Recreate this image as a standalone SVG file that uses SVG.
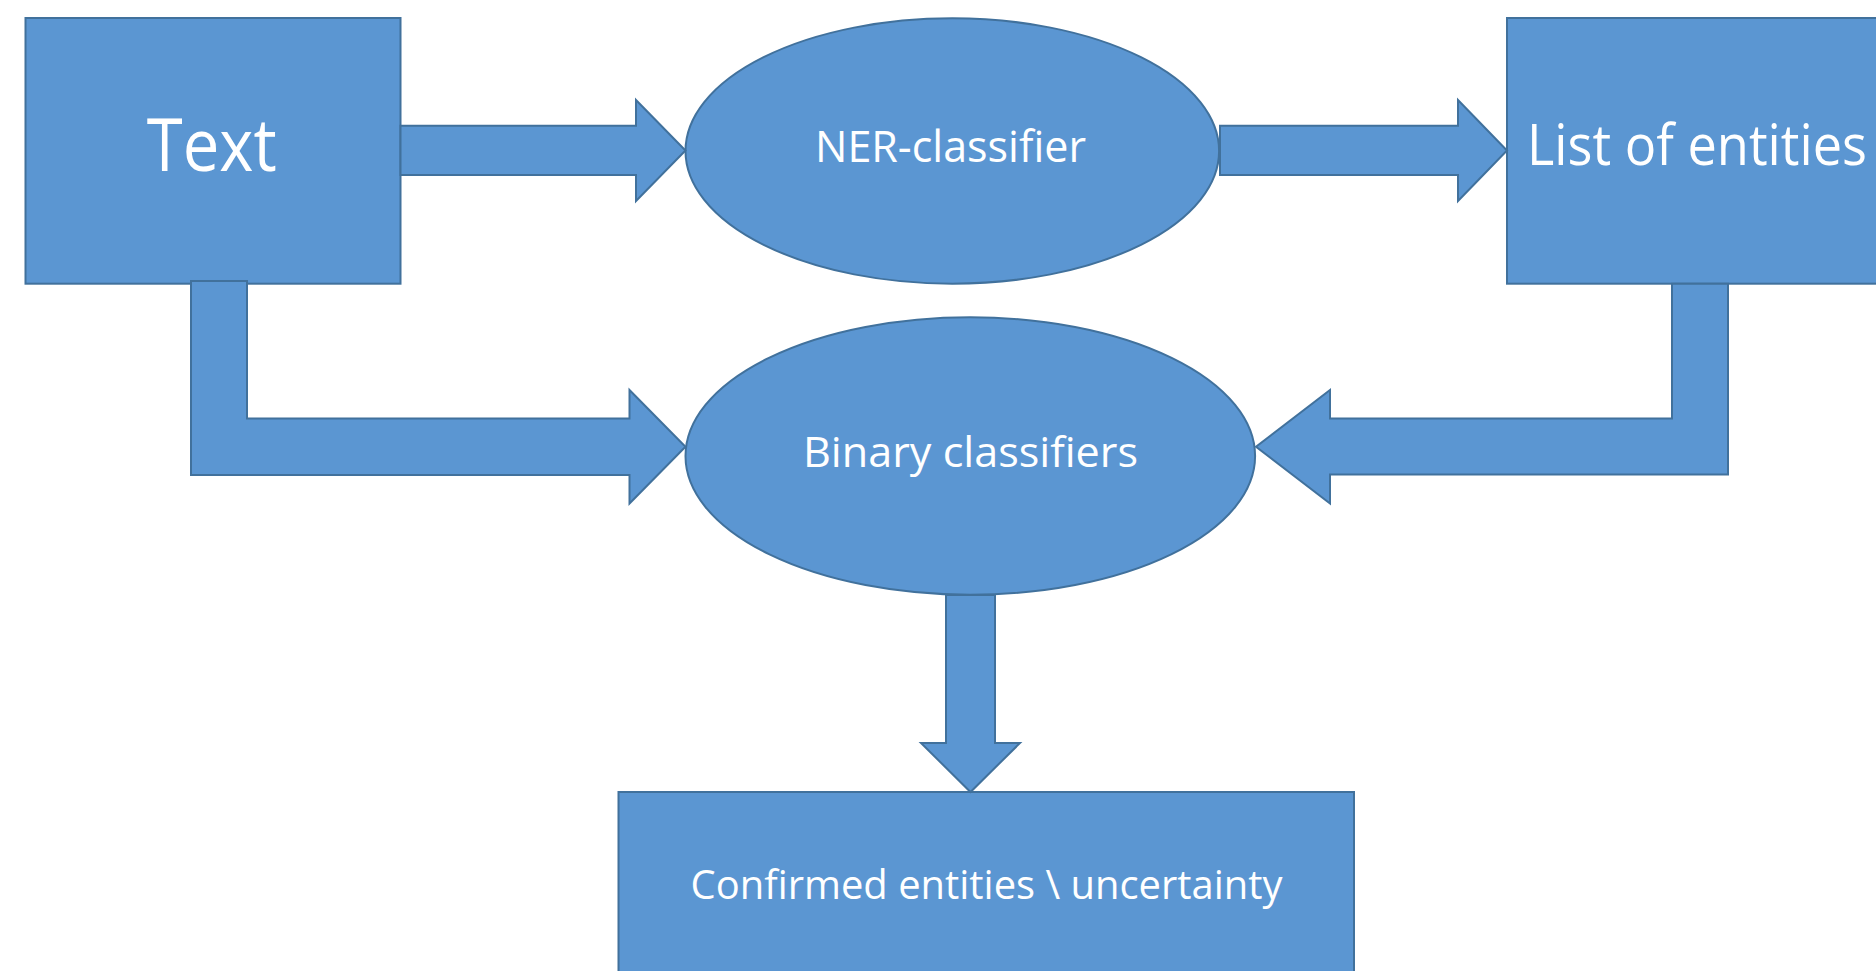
<svg xmlns="http://www.w3.org/2000/svg" width="1876" height="971" viewBox="0 0 1876 971">
  <style>
    .shape { fill: #5B96D2; stroke: #41719C; stroke-width: 2; stroke-linejoin: miter; }
    .lbl { fill: #FFFFFF; font-family: "Open Sans", "Liberation Sans", sans-serif; text-anchor: middle; }
  </style>
  <rect x="0" y="0" width="1876" height="971" fill="#FFFFFF"/>
  <g id="node-text">
    <rect class="shape" x="25.5" y="18" width="375" height="265.7"/>
    <text class="lbl" x="211.7" y="170.7" font-size="73" textLength="130" lengthAdjust="spacingAndGlyphs">Text</text>
  </g>
  <g id="node-ner">
    <ellipse class="shape" cx="952.3" cy="151" rx="266.8" ry="132.7"/>
    <text class="lbl" x="950.5" y="161.7" font-size="43.5" textLength="271" lengthAdjust="spacingAndGlyphs">NER-classifier</text>
  </g>
  <g id="node-list">
    <rect class="shape" x="1507" y="18" width="375" height="265.7"/>
    <text class="lbl" x="1697" y="165" font-size="56" textLength="340" lengthAdjust="spacingAndGlyphs">List of entities</text>
  </g>
  <g id="node-binary">
    <ellipse class="shape" cx="970.3" cy="456" rx="284.8" ry="138.8"/>
    <text class="lbl" x="970.5" y="466.7" font-size="42" textLength="335" lengthAdjust="spacingAndGlyphs">Binary classifiers</text>
  </g>
  <g id="node-confirmed">
    <rect class="shape" x="618.5" y="792" width="735.5" height="266"/>
    <text class="lbl" x="986.5" y="899" font-size="40.6" textLength="592" lengthAdjust="spacingAndGlyphs">Confirmed entities \ uncertainty</text>
  </g>
  <g id="connectors">
    <polygon class="shape" points="400.5,125.7 636,125.7 636,100 685.5,150.5 636,201 636,175 400.5,175"/>
    <polygon class="shape" points="1220,125.7 1458,125.7 1458,100 1507,150.5 1458,201 1458,175 1220,175"/>
    <polygon class="shape" points="191,281 247,281 247,418.5 629.5,418.5 629.5,390 685.5,446.7 629.5,503.5 629.5,475 191,475"/>
    <polygon class="shape" points="1728,283.7 1728,474.5 1330,474.5 1330,503.5 1256,446.7 1330,390 1330,418.5 1672,418.5 1672,283.7"/>
    <polygon class="shape" points="946,595 995,595 995,743 1020,743 970.5,792 921,743 946,743"/>
  </g>
</svg>
